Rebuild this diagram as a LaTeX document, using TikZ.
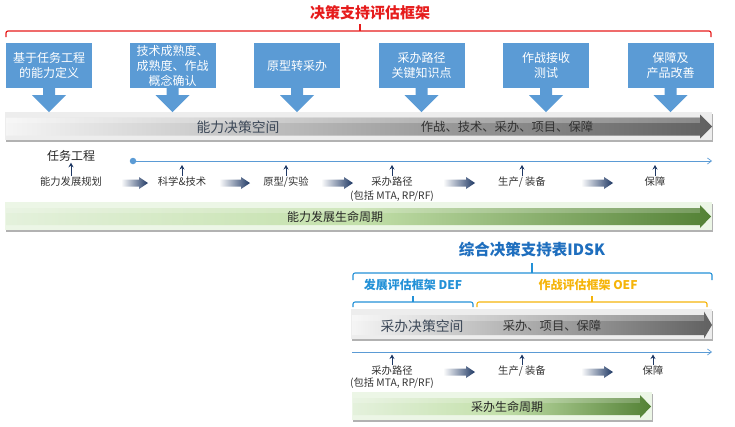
\documentclass[tikz,border=0pt]{standalone}
\usepackage{fontspec}
\setmainfont{Noto Sans CJK SC}
\usetikzlibrary{arrows.meta,shadows}
\definecolor{boxblue}{RGB}{91,155,213}
\definecolor{titlered}{RGB}{230,28,28}
\definecolor{navy}{RGB}{31,56,100}
\definecolor{lineblue}{RGB}{91,155,213}
\definecolor{idskblue}{RGB}{30,110,190}
\definecolor{defblue}{RGB}{35,145,215}
\definecolor{oefgold}{RGB}{245,180,10}
\definecolor{darkgreen}{RGB}{83,129,53}
\definecolor{midgreen}{RGB}{195,224,170}
\definecolor{lightgreen}{RGB}{228,241,220}
\definecolor{palegreen}{RGB}{236,246,230}
\definecolor{textdark}{RGB}{50,50,50}
\definecolor{slate}{RGB}{60,72,88}
\tikzset{
  callout/.style={fill=boxblue, text=white, minimum width=86pt, minimum height=45pt,
    inner sep=1pt, align=center, font=\fontsize{12}{15}\selectfont},
  bartext/.style={text=slate, inner sep=0pt, font=\fontsize{13.8}{16}\selectfont},
  barsub/.style={text=textdark, inner sep=0pt, font=\fontsize{12.3}{15}\selectfont},
  lbl/.style={text=textdark, inner sep=1pt, anchor=north, align=center, font=\fontsize{10.3}{14}\selectfont},
  lbltwo/.style={lbl, font=\fontsize{10.3}{11.6}\selectfont},
  uparrow/.style={draw=navy, line width=0.9pt, -{Stealth[length=4.5pt,width=5pt]}},
  timeline/.style={draw=lineblue, line width=0.7pt, -{Straight Barb[length=4pt,width=6pt]}},
  redbracket/.style={draw=titlered, line width=1.2pt, rounded corners=2pt},
  bluebracket/.style={draw=defblue, line width=1.1pt, rounded corners=2pt},
  goldbracket/.style={draw=oefgold, line width=1.1pt, rounded corners=2pt},
  barshadow/.style={drop shadow={shadow xshift=0.5pt, shadow yshift=-1.8pt, fill=black!55, opacity=0.55}},
}
\newcommand{\gradarrow}[3]{\shade[left color=white, right color=navy]
  (#1,#3-3.5) -- (#2-9,#3-3.5) -- (#2-9,#3-6) -- (#2,#3) -- (#2-9,#3+6) -- (#2-9,#3+3.5) -- (#1,#3+3.5) -- cycle;}
\newcommand{\calloutarrow}[1]{\fill[boxblue] (#1.south) ++(-6,-1) -- ++(12,0) -- ++(0,8) -- ++(11,0) -- ++(-17,17) -- ++(-17,-17) -- ++(11,0) -- cycle;}
\begin{document}
\begin{tikzpicture}[x=1pt,y=-1pt]
\useasboundingbox (0,0) rectangle (735,426);
% ---------- title & red bracket
\node[text=titlered, font=\bfseries\fontsize{15}{18}\selectfont, inner sep=0pt] (title) at (370,13) {决策支持评估框架};
\draw[redbracket] (6,37) -- (6,31) -- (711,31) -- (711,37);
\draw[redbracket, rounded corners=0pt] (360,31) -- (360,24);
% ---------- gray bar 1
\fill[black!7, barshadow] (5,112) rectangle (712,140);
\shade[left color=black!4, right color=black!62] (6,117.5) -- (700,117.5) -- (700,114.5) -- (712,126.5) -- (700,138.5) -- (700,135.5) -- (6,135.5) -- cycle;
\fill[white, opacity=0.25] (6,117.5) rectangle (700,123);
\node[bartext] (space1) at (238,127) {能力决策空间};
\node[barsub] (ops1) at (507,127) {作战、技术、采办、项目、保障};
% ---------- callouts
\node[callout] (b1) at (49,65.5) {基于任务工程\\的能力定义};
\node[callout] (b2) at (172.5,65.5) {技术成熟度、\\成熟度、作战\\概念确认};
\node[callout] (b3) at (297,65.5) {原型转采办};
\node[callout] (b4) at (421.5,65.5) {采办路径\\关键知识点};
\node[callout] (b5) at (546,65.5) {作战接收\\测试};
\node[callout] (b6) at (670.5,65.5) {保障及\\产品改善};
\calloutarrow{b1}\calloutarrow{b2}\calloutarrow{b3}\calloutarrow{b4}\calloutarrow{b5}\calloutarrow{b6}
% ---------- timeline 1
\node[text=black!85, inner sep=1pt, font=\fontsize{12}{14}\selectfont] (me) at (71,156) {任务工程};
\node[circle, fill=lineblue, inner sep=0pt, minimum size=6.5pt] (dot1) at (133,161) {};
\coordinate (tend1) at (712,161);
\draw[timeline] (dot1.center) -- (tend1);
\node[lbl] (l1) at (71,176) {能力发展规划};
\node[lbl] (l2) at (182,176) {科学\&技术};
\node[lbl] (l3) at (286,176) {原型/实验};
\node[lbl] (l4) at (392,176) {采办路径\\(包括 MTA, RP/RF)};
\node[lbl] (l5) at (522,176) {生产/ 装备};
\node[lbl] (l6) at (655,176) {保障};
\coordinate (u2) at (182,165);
\coordinate (u3) at (286,165);
\coordinate (u4) at (392,165);
\coordinate (u5) at (522,165);
\coordinate (u6) at (655,165);
\draw[uparrow] (l1.north) -- (me.south);
\draw[uparrow] (l2.north) -- (u2);
\draw[uparrow] (l3.north) -- (u3);
\draw[uparrow] (l4.north) -- (u4);
\draw[uparrow] (l5.north) -- (u5);
\draw[uparrow] (l6.north) -- (u6);
\gradarrow{121}{148}{183}
\gradarrow{219}{250}{183}
\gradarrow{321}{353}{183}
\gradarrow{443}{475}{183}
\gradarrow{581}{613}{183}
% ---------- green bar 1
\fill[palegreen, barshadow] (5,202) rectangle (712,230);
\shade[left color=lightgreen, right color=darkgreen, middle color=midgreen] (6,208) -- (700,208) -- (700,205) -- (711,216.5) -- (700,228) -- (700,225) -- (6,225) -- cycle;
\fill[white, opacity=0.2] (6,208) rectangle (700,213);
\node[barsub, text=black!85, font=\fontsize{12}{14}\selectfont] (life1) at (335,217) {能力发展生命周期};
% ---------- IDSK
\node[text=idskblue, font=\bfseries\fontsize{15.5}{18}\selectfont, inner sep=0pt] (idsk) at (532,250) {综合决策支持表IDSK};
\draw[bluebracket] (353,280) -- (353,273) -- (712,273) -- (712,280);
\draw[bluebracket, rounded corners=0pt] (532,273) -- (532,263);
\node[text=defblue, font=\bfseries\fontsize{12}{14}\selectfont, inner sep=0pt] (def) at (413,285) {发展评估框架 DEF};
\node[text=oefgold, font=\bfseries\fontsize{12}{14}\selectfont, inner sep=0pt] (oef) at (588,285) {作战评估框架 OEF};
\draw[bluebracket] (353,307) -- (353,302) -- (473,302) -- (473,307);
\draw[bluebracket, rounded corners=0pt] (413,302) -- (413,296);
\draw[goldbracket] (477,307) -- (477,302) -- (707,302) -- (707,307);
\draw[goldbracket, rounded corners=0pt] (592,302) -- (592,296);
% ---------- gray bar 2
\fill[black!7, barshadow] (351,309) rectangle (712,339);
\shade[left color=black!4, right color=black!62] (352,315) -- (704,315) -- (704,311.5) -- (712,325) -- (704,338.5) -- (704,335) -- (352,335) -- cycle;
\fill[white, opacity=0.25] (352,315) rectangle (704,320.5);
\node[bartext] (space2) at (422,326) {采办决策空间};
\node[barsub] (ops2) at (552,326) {采办、项目、保障};
% ---------- timeline 2
\coordinate (tstart2) at (352,352);
\coordinate (tend2) at (712,352);
\draw[timeline] (tstart2) -- (tend2);
\node[lbltwo] (m1) at (392,365) {采办路径\\(包括 MTA, RP/RF)};
\node[lbl] (m2) at (522,365) {生产/ 装备};
\node[lbl] (m3) at (653,365) {保障};
\coordinate (v1) at (392,354.5);
\coordinate (v2) at (522,354.5);
\coordinate (v3) at (653,354.5);
\draw[uparrow] (m1.north) -- (v1);
\draw[uparrow] (m2.north) -- (v2);
\draw[uparrow] (m3.north) -- (v3);
\gradarrow{443}{475}{372}
\gradarrow{581}{613}{372}
% ---------- green bar 2
\fill[palegreen, barshadow] (352,392) rectangle (652,420);
\shade[left color=lightgreen, right color=darkgreen, middle color=midgreen] (353,398) -- (640,398) -- (640,395) -- (651,406.5) -- (640,418) -- (640,415) -- (353,415) -- cycle;
\fill[white, opacity=0.2] (353,398) rectangle (640,403);
\node[barsub, text=black!85, font=\fontsize{12}{14}\selectfont] (life2) at (507,407) {采办生命周期};
\end{tikzpicture}
\end{document}
